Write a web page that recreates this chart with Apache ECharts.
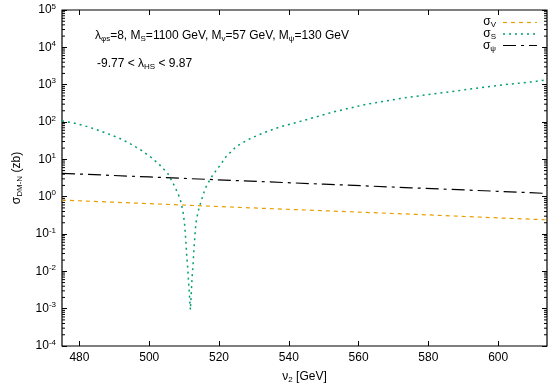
<!DOCTYPE html>
<html>
<head>
<meta charset="utf-8">
<script src="https://cdn.jsdelivr.net/npm/echarts@6/dist/echarts.min.js"></script>
<style>
  html, body { margin: 0; padding: 0; background: #fff; }
  #main { width: 548px; height: 384px; }
</style>
</head>
<body>
<div id="main"></div>
<script>
// x ticks
const xTicks = [480, 500, 520, 540, 560, 580, 600];

// sigma_V (yellow) and sigma_psi (black) – read at a few v2 values
const xSmooth = [475, 500, 525, 550, 575, 600, 614];
const sigmaV = [0.81, 0.65, 0.52, 0.42, 0.34, 0.27, 0.24];
const sigmaPsi = [4.22, 3.37, 2.70, 2.16, 1.73, 1.39, 1.22];

// sigma_S (green) – has a sharp dip near 512 GeV
const xS = [475, 477.2, 479.1, 482.5, 485.6, 488.8, 492.0, 495.1, 497.9, 500.6,
  503.0, 505.3, 507.0, 508.4, 509.05, 509.7, 510.1, 510.4, 510.7, 511.0,
  511.3, 511.55, 511.8, 511.85, 511.9, 512.1, 512.3, 512.6, 512.8, 513.1,
  513.4, 514.0, 515.0, 516.1, 517.6, 519.5, 520.7, 521.5, 525.0, 528.8,
  532.7, 537.5, 542.7, 552.7, 562.3, 571.9, 581.5, 591.0, 600.6, 610.1, 614];
const sigmaS = [107, 98, 91, 74, 59, 46, 35, 24.5, 17, 11.2,
  7.1, 4.2, 2.14, 1.12, 0.74, 0.38, 0.20, 0.087, 0.031, 0.0135,
  0.0049, 0.0021, 0.00093, 0.00083, 0.0014, 0.0032, 0.0074, 0.017, 0.038, 0.095,
  0.20, 0.40, 0.83, 1.7, 3.1, 5.6, 7.6, 10.5, 22.4, 35.5,
  51, 74, 100, 185, 300, 425, 570, 740, 970, 1200, 1349];

const FONT = 'Liberation Sans';
const GREEN = '#009e73';
const ORANGE = '#e69f00';

// minor log ticks 2..9 in every decade
let minorVals = [];
for (let e = -4; e < 5; e++) {
  for (let k = 2; k <= 9; k++) minorVals.push([475, k * Math.pow(10, e)]);
}

const pair = (xs, ys) => xs.map((x, i) => [x, ys[i]]);

const supLabel = (v) => {
  const e = Math.round(Math.log10(v));
  return '{b|10}{s|' + e + '}';
};

// text with subscripts (gnuplot style)
const subRich = {
  b: { fontFamily: FONT, fontSize: 12, fill: '#000', color: '#000' },
  sb: { fontFamily: FONT, fontSize: 8, fill: '#000', color: '#000', padding: [6, 0, 0, 0] }
};

const chart = echarts.init(document.getElementById('main'));
const option = {
  animation: false,
  grid: {
    left: 62, right: 1, top: 10, bottom: 38, outerBoundsMode: 'none',
    show: true, borderColor: '#000', borderWidth: 1.2, backgroundColor: 'transparent'
  },
  xAxis: [{
    type: 'value', min: 475, max: 614, position: 'bottom',
    name: '{b|ν}{sb|2}{b| [GeV]}', nameLocation: 'middle', nameGap: 24,
    nameTextStyle: { rich: subRich },
    axisLine: { show: false },
    splitLine: { show: false },
    axisTick: { inside: true, length: 5, customValues: xTicks, lineStyle: { color: '#000' } },
    axisLabel: { customValues: xTicks, margin: 6, fontFamily: FONT, fontSize: 12, color: '#000' }
  }, {
    type: 'value', min: 475, max: 614, position: 'top',
    axisLine: { show: false },
    splitLine: { show: false },
    axisTick: { inside: true, length: 5, customValues: xTicks, lineStyle: { color: '#000' } },
    axisLabel: { show: false }
  }],
  yAxis: [{
    type: 'log', logBase: 10, min: 1e-4, max: 1e5, position: 'left',
    name: '{b|σ}{sb|DM-N}{b| (zb)}', nameLocation: 'middle', nameGap: 38, nameRotate: 90,
    nameTextStyle: { rich: subRich },
    axisLine: { show: false },
    splitLine: { show: false },
    axisTick: { inside: true, length: 5, lineStyle: { color: '#000' } },
    axisLabel: {
      margin: 6, formatter: supLabel,
      rich: {
        b: { fontFamily: FONT, fontSize: 12, color: '#000' },
        s: { fontFamily: FONT, fontSize: 8, color: '#000', padding: [0, 0, 7, 0] }
      }
    }
  }, {
    type: 'log', logBase: 10, min: 1e-4, max: 1e5, position: 'right',
    axisLine: { show: false },
    splitLine: { show: false },
    axisTick: { inside: true, length: 5, lineStyle: { color: '#000' } },
    axisLabel: { show: false }
  }],
  series: [{
    name: 'minor', type: 'custom', xAxisIndex: 0, yAxisIndex: 0, silent: true,
    data: minorVals,
    renderItem: (params, api) => {
      const y = api.coord([475, api.value(1)])[1];
      const cs = params.coordSys;
      const st = { stroke: '#000', lineWidth: 1 };
      return {
        type: 'group',
        children: [
          { type: 'line', shape: { x1: cs.x, y1: y, x2: cs.x + 3, y2: y }, style: st },
          { type: 'line', shape: { x1: cs.x + cs.width - 3, y1: y, x2: cs.x + cs.width, y2: y }, style: st }
        ]
      };
    }
  }, {
    name: 'sigmaV', type: 'line', showSymbol: false, symbol: 'none',
    data: pair(xSmooth, sigmaV),
    lineStyle: { color: ORANGE, width: 1.2, type: [4, 4] }
  }, {
    name: 'sigmaS', type: 'line', showSymbol: false, symbol: 'none',
    data: pair(xS, sigmaS),
    lineStyle: { color: GREEN, width: 1.5, type: [2, 4] }
  }, {
    name: 'sigmaPsi', type: 'line', showSymbol: false, symbol: 'none',
    data: pair(xSmooth, sigmaPsi),
    lineStyle: { color: '#000', width: 1.2, type: [13, 5, 3, 5] }
  }],
  graphic: [
    {
      type: 'text', left: 95, top: 30,
      style: {
        text: '{b|λ}{sb|φs}{b|=8, M}{sb|S}{b|=1100 GeV, M}{sb|v}{b|=57 GeV, M}{sb|ψ}{b|=130 GeV}',
        rich: subRich
      }
    },
    {
      type: 'text', left: 97, top: 58,
      style: { text: '{b|-9.77 < λ}{sb|HS}{b| < 9.87}', rich: subRich }
    },
    // legend
    { type: 'text', right: 52, top: 16, style: { text: '{b|σ}{sb|V}', rich: subRich } },
    { type: 'text', right: 52, top: 28, style: { text: '{b|σ}{sb|S}', rich: subRich } },
    { type: 'text', right: 52, top: 40, style: { text: '{b|σ}{sb|ψ}', rich: subRich } },
    { type: 'line', shape: { x1: 503, y1: 22.5, x2: 537, y2: 22.5 }, style: { stroke: ORANGE, lineWidth: 1.2, lineDash: [4, 4] } },
    { type: 'line', shape: { x1: 503, y1: 34, x2: 537, y2: 34 }, style: { stroke: GREEN, lineWidth: 1.5, lineDash: [2, 4] } },
    { type: 'line', shape: { x1: 503, y1: 45.5, x2: 537, y2: 45.5 }, style: { stroke: '#000', lineWidth: 1.2, lineDash: [13, 5, 3, 5] } }
  ]
};
chart.setOption(option);
</script>
</body>
</html>
